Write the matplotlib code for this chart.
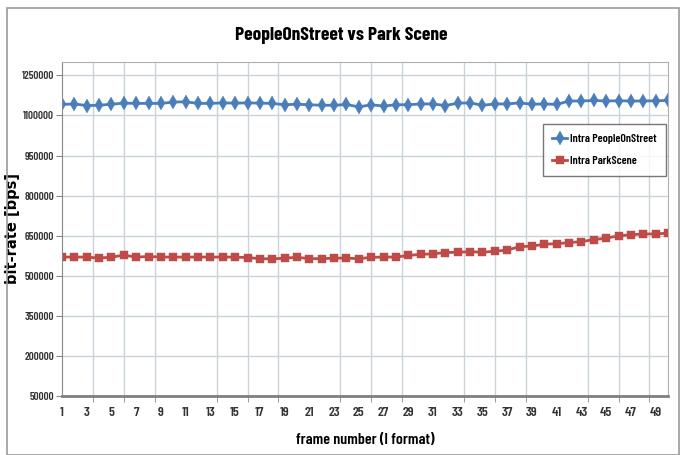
import numpy as np
import matplotlib.pyplot as plt
from matplotlib.patches import Rectangle
from matplotlib.ticker import FuncFormatter

# frame numbers and bit-rates
frames = np.arange(1, 51)
people_on_street = [1141000, 1143000, 1137000, 1138000, 1142000, 1146000, 1145000, 1145000, 1145000, 1150000,
                    1151000, 1145000, 1145000, 1147000, 1146000, 1147000, 1146000, 1145000, 1140000, 1142000,
                    1140000, 1138000, 1138000, 1141000, 1132000, 1140000, 1135000, 1140000, 1140000, 1143000,
                    1143000, 1137000, 1146000, 1147000, 1138000, 1143000, 1143000, 1147000, 1142000, 1143000,
                    1141000, 1154000, 1154000, 1156000, 1154000, 1155000, 1154000, 1154000, 1155000, 1156000]
park_scene = [570000, 570000, 570000, 566000, 570000, 577000, 570000, 572000, 570000, 570000,
              570000, 570000, 570000, 570000, 570000, 568000, 564000, 563000, 566000, 569000,
              564000, 564000, 566000, 566000, 564000, 569000, 570000, 570000, 576000, 580000,
              582000, 587000, 588000, 590000, 588000, 592000, 596000, 609000, 611000, 618000,
              620000, 624000, 628000, 635000, 641000, 649000, 654000, 656000, 657000, 659000]
y_ticks = [50000, 200000, 350000, 500000, 650000, 800000, 950000, 1100000, 1250000]

narrow = ['Barlow Condensed', 'Asap Condensed', 'DejaVu Sans']
plt.rcParams['font.family'] = narrow

fig = plt.figure(figsize=(6.82, 4.55), dpi=100)
fig.patches.append(Rectangle((7/682, 0), 672/682, 447/455, transform=fig.transFigure,
                             fill=False, edgecolor='#9a9a9a', linewidth=1.2))

ax = fig.add_axes([62/682, 59/455, 606/682, 334/455])

ax.plot(frames, people_on_street, color='#4a7ebb', linewidth=2, marker='d',
        markersize=7, markeredgewidth=0.3, label='Intra PeopleOnStreet')
ax.plot(frames, park_scene, color='#be4b48', linewidth=2, marker='s',
        markersize=5.5, markeredgewidth=0.3, label='Intra ParkScene')

ax.set_xlim(1, 50)
ax.set_ylim(50000, 1300000)

ax.set_xticks(np.arange(1, 50, 2))
ax.set_xticks(np.arange(1, 50, 2.5), minor=True)
ax.set_yticks(y_ticks)
ax.yaxis.set_major_formatter(FuncFormatter(lambda v, p: '%d' % v))
ax.tick_params(axis='x', which='major', length=0, pad=8, labelsize=10)
ax.tick_params(axis='x', which='minor', length=4, color='#888888', direction='out')
ax.tick_params(axis='y', length=4, color='#888888', labelsize=8, pad=1.5)
for lbl in ax.get_xticklabels() + ax.get_yticklabels():
    lbl.set_fontweight('semibold')
    lbl.set_color('#333333')

ax.grid(True, axis='y', which='major', color='#c9d3da', linewidth=1)
ax.grid(True, axis='x', which='minor', color='#c9d3da', linewidth=1)
ax.set_axisbelow(True)

for s in ['top', 'right']:
    ax.spines[s].set_color('#b0b0b0')
ax.spines['left'].set_color('#888888')
ax.spines['bottom'].set_color('#7f7f7f')
ax.spines['bottom'].set_linewidth(2)

fig.text(0.5, 0.922, 'PeopleOnStreet vs Park Scene', ha='center', va='center',
         fontsize=14, fontweight='bold')
ax.set_xlabel('frame number (I format)', fontsize=11.5, fontweight='semibold')
ax.xaxis.set_label_coords(0.5, -0.11)
ax.set_ylabel('bit-rate [bps]', fontsize=10.5, fontweight='bold',
              family=['DejaVu Sans'])
ax.yaxis.set_label_coords(-0.069, 0.5)

leg = ax.legend(loc='upper right', bbox_to_anchor=(1.0, 0.82), fontsize=8.5,
                frameon=True, fancybox=False, handlelength=1.3, handletextpad=0.2,
                borderpad=0.8, labelspacing=1.0, borderaxespad=0.2)
leg.get_frame().set_edgecolor('#555555')
for t in leg.get_texts():
    t.set_fontweight('semibold')

fig.savefig('out.png', dpi=100)
